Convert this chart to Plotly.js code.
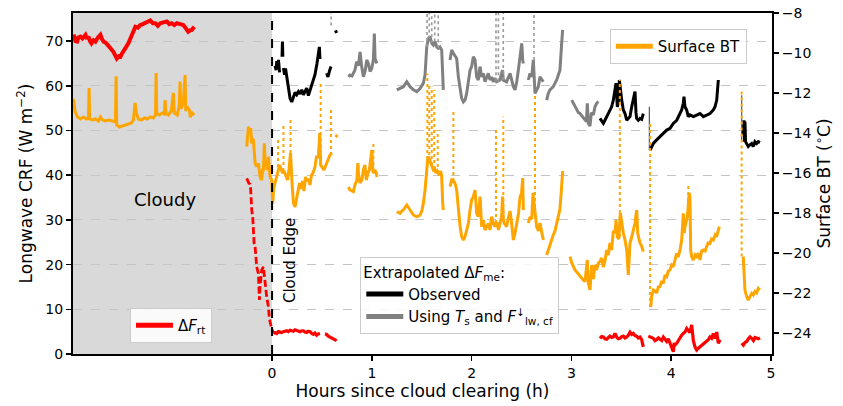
<!DOCTYPE html>
<html><head><meta charset="utf-8">
<script src="https://cdn.plot.ly/plotly-3.0.1.min.js"></script>
<style>html,body{margin:0;padding:0;background:#fff}#chart{width:843px;height:406px}</style>
</head><body><div id="chart"></div>
<script>
// ---- data: [hours since clearing, value]; null = gap ----
const rtCloudy = [[-1.99,71.0],[-1.987,71.4],[-1.97,70.0],[-1.954,69.9],[-1.94,70.8],[-1.92,71.0],[-1.9,70.6],[-1.87,71.4],[-1.855,70.5],[-1.84,71.0],[-1.825,70.0],[-1.81,69.5],[-1.79,70.2],[-1.77,69.9],[-1.745,70.8],[-1.72,71.4],[-1.705,70.5],[-1.69,69.9],[-1.665,69.6],[-1.64,69.1],[-1.615,68.3],[-1.59,67.6],[-1.57,66.8],[-1.556,66.1],[-1.535,66.6],[-1.52,66.5],[-1.505,67.2],[-1.49,67.6],[-1.465,68.6],[-1.44,69.5],[-1.42,70.5],[-1.40,71.4],[-1.385,72.4],[-1.37,73.2],[-1.345,73.0],[-1.32,73.6],[-1.295,73.8],[-1.27,74.0],[-1.245,74.2],[-1.22,74.6],[-1.195,74.0],[-1.17,74.0],[-1.145,73.4],[-1.12,74.0],[-1.09,74.2],[-1.055,74.4],[-1.03,73.8],[-1.005,74.0],[-0.98,73.6],[-0.955,74.0],[-0.92,73.8],[-0.89,73.6],[-0.865,72.9],[-0.84,72.1],[-0.82,72.4],[-0.805,72.5],[-0.78,73.2]];
const rtDrop = [[-0.254,39.3],[-0.245,38.6],[-0.232,38.2],[-0.22,38.0],[-0.214,36.7],[-0.204,32.2],[-0.194,30.7],[-0.187,27.7],[-0.18,24.8],[-0.17,24.0],[-0.164,21.8],[-0.154,19.5],[-0.137,18.0],[-0.127,12.1],[-0.12,15.1],[-0.104,18.8],[-0.087,19.5],[-0.08,18.0],[-0.07,15.1],[-0.054,12.8],[-0.037,10.6],[-0.027,8.0],[-0.013,6.5],[0.0,5.4],[0.013,4.6]];
const rtClear = [[0.013,4.6],[0.03,4.8],[0.047,4.6],[0.063,5.0],[0.08,4.9],[0.097,4.8],[0.114,5.0],[0.13,5.1],[0.147,5.2],[0.163,5.0],[0.18,5.3],[0.197,5.2],[0.214,5.1],[0.23,5.4],[0.247,5.3],[0.263,5.1],[0.28,5.0],[0.297,5.2],[0.314,5.2],[0.33,4.9],[0.347,4.8],[0.363,5.1],[0.38,5.0],[0.397,4.6],[0.414,4.4],[0.43,4.7],[0.447,4.2],[0.463,4.5],[0.48,4.6],null,
 [0.53,4.5],[0.547,4.4],[0.563,4.0],[0.58,3.8],[0.597,3.6],[0.614,3.5],[0.63,3.3],[0.647,3.0],null,
 [3.286,3.5],[3.303,3.9],[3.32,3.8],[3.336,3.4],[3.353,3.3],[3.37,3.8],[3.386,4.0],[3.403,3.7],[3.42,3.8],[3.437,4.6],[3.453,3.8],[3.47,3.4],[3.487,3.5],[3.504,3.9],[3.52,4.0],[3.537,3.6],[3.554,3.8],[3.57,4.2],[3.587,4.9],[3.604,4.4],[3.62,4.6],[3.637,4.1],[3.654,4.0],[3.67,3.6],[3.687,3.8],[3.704,3.2],[3.72,1.6],null,
 [3.77,4.0],[3.787,3.8],[3.804,3.5],[3.82,3.5],[3.837,3.0],[3.854,3.2],[3.871,3.6],[3.888,3.3],[3.905,3.0],[3.921,3.8],[3.938,3.2],[3.955,2.8],[3.971,3.4],[3.988,2.4],[4.005,1.6],[4.021,0.5],[4.03,2.5],[4.038,2.0],[4.055,2.4],[4.07,3.0],[4.088,3.8],[4.105,4.2],[4.121,4.6],[4.138,4.9],[4.155,5.7],[4.172,5.2],[4.188,4.8],[4.205,6.5],[4.213,4.5],[4.222,3.0],[4.238,1.6],[4.255,0.9],[4.272,1.3],[4.289,1.6],[4.305,2.0],[4.322,2.4],[4.34,2.6],[4.356,2.8],[4.372,3.2],[4.389,3.8],[4.405,3.5],[4.422,4.6],[4.439,3.5],[4.456,4.9],[4.472,2.4],[4.489,3.2],null,
 [4.706,2.4],[4.723,2.0],[4.74,2.6],[4.757,2.8],[4.773,3.4],[4.79,3.8],[4.807,3.5],[4.824,3.0],[4.84,3.7],[4.857,3.6],[4.873,3.4],[4.89,3.6]];

const meObserved = [[0.03,64.5],[0.04,63.5],[0.047,65.5],[0.055,64.0],[0.064,65.8],[0.075,63.0],null,
 [0.1,66.5],[0.104,69.9],[0.108,66.5],null,
 [0.114,64.0],[0.125,62.5],[0.135,63.9],[0.147,62.0],[0.16,60.5],[0.175,58.0],[0.18,57.2],[0.197,56.4],[0.214,57.6],[0.23,58.5],[0.247,58.0],[0.264,58.7],[0.28,58.2],[0.297,59.1],[0.314,58.0],[0.33,58.6],[0.347,59.5],[0.364,57.8],[0.38,59.0],[0.397,60.5],[0.414,61.5],[0.43,62.5],[0.45,65.0],[0.474,68.7],[0.48,66.0],null,
 [0.547,62.8],[0.56,62.0],[0.575,63.3],[0.59,64.3],null,
 [0.636,72.4],[0.646,71.8],null,
 [3.286,52.7],[3.303,52.0],[3.32,51.6],[3.336,52.3],[3.353,53.1],[3.37,53.8],[3.386,54.6],[3.403,55.3],[3.42,56.8],[3.437,59.8],[3.447,60.6],[3.46,55.3],[3.47,56.1],[3.48,61.3],[3.494,58.3],[3.504,56.8],[3.52,54.6],[3.537,53.8],[3.554,52.3],[3.57,52.7],[3.587,53.1],[3.604,55.3],[3.62,56.8],[3.637,58.7],[3.647,54.0],[3.654,52.7],[3.67,52.3],[3.687,52.7],[3.704,52.5],[3.72,53.8],null,
 [3.788,45.6],[3.804,46.4],[3.821,47.1],[3.854,47.9],[3.888,48.6],[3.921,49.4],[3.955,50.1],[3.988,50.5],[4.021,51.6],[4.055,52.3],[4.071,53.1],[4.088,53.8],[4.105,54.6],[4.121,56.1],[4.128,57.6],[4.138,55.3],[4.155,54.6],[4.171,53.1],[4.188,53.5],[4.222,53.1],[4.255,53.5],[4.289,53.8],[4.322,53.1],[4.355,53.5],[4.389,53.8],[4.422,54.6],[4.439,55.3],[4.456,56.8],[4.472,61.3],null,
 [4.722,49.0],[4.729,52.3],[4.735,47.5],[4.739,52.0],[4.745,47.5],[4.756,47.1],[4.772,46.4],[4.789,46.8],[4.806,47.1],[4.822,46.4],[4.839,47.5],[4.856,47.1],[4.872,47.5],[4.889,47.3]];

const meUsingTs = [[0.765,62.0],[0.78,62.4],[0.8,62.2],[0.815,62.8],[0.83,63.5],[0.848,65.4],[0.865,64.5],[0.882,67.6],[0.89,65.0],[0.898,64.3],[0.915,62.0],[0.932,63.2],[0.949,65.8],[0.965,65.0],[0.982,63.2],[0.999,63.9],[1.015,65.8],[1.025,71.7],[1.032,66.1],[1.049,65.0],null,
 [1.25,59.1],[1.283,59.4],[1.316,59.8],[1.35,60.9],[1.366,60.2],[1.383,59.8],[1.416,59.1],[1.45,58.7],[1.483,59.4],[1.516,60.6],[1.533,62.4],[1.55,68.7],[1.566,70.6],[1.583,71.0],[1.6,69.5],[1.616,69.1],[1.633,69.9],[1.65,68.7],[1.666,68.4],[1.683,68.7],[1.7,68.0],[1.71,62.0],[1.716,59.1],null,
 [1.783,65.8],[1.8,68.0],[1.817,67.3],[1.834,66.5],[1.85,66.1],[1.867,62.0],[1.884,59.1],[1.9,57.2],[1.917,56.4],[1.934,56.8],[1.95,58.3],[1.967,60.9],[1.984,63.5],[2.0,64.3],[2.017,66.5],[2.034,65.8],[2.044,63.5],[2.05,62.0],[2.067,61.3],[2.084,64.3],[2.1,62.0],[2.117,62.8],[2.134,60.9],[2.15,62.0],[2.167,62.8],[2.184,61.3],[2.2,62.0],[2.217,60.9],[2.234,61.7],[2.25,60.9],[2.284,61.3],[2.3,62.8],[2.31,63.5],[2.317,61.3],[2.35,60.9],[2.385,62.8],[2.418,59.8],[2.435,59.1],[2.452,60.9],[2.468,63.5],[2.485,66.5],[2.502,69.5],[2.512,65.8],[2.518,65.0],null,
 [2.568,61.3],[2.585,62.8],[2.602,62.0],[2.618,65.8],[2.635,58.3],[2.652,59.1],[2.668,59.8],[2.685,62.0],[2.702,61.3],[2.718,60.9],null,
 [2.752,56.8],[2.768,58.3],[2.785,59.1],[2.818,59.8],[2.852,61.3],[2.885,63.5],[2.902,69.5],[2.912,72.5],null,
 [3.003,56.8],[3.02,56.1],[3.036,55.3],[3.05,54.6],[3.07,54.0],[3.086,53.8],[3.11,53.1],[3.136,52.5],[3.15,52.0],[3.159,56.1],[3.169,51.6],[3.186,51.0],[3.2,54.0],[3.22,53.5],[3.236,55.3],[3.253,56.1],[3.27,56.5]];

// dotted excursions of the "Using Ts" series: [hours, low, high]
const tsSpikes = [[0.592,73.5,78],[1.553,68.7,78],[1.575,70.6,78],[1.6,69.5,78],[1.63,69.9,78],[1.665,68.4,78],[2.244,61.0,78],[2.268,61.0,78],[2.317,61.3,78],[2.625,65.8,78]];
// thin transitions of the extrapolated series: [hours, low, high]
const meJumps = [[3.781,45.6,55.3],[4.706,47.5,57.9]];

const surfaceBT = [[-1.99,-12.3],[-1.975,-12.9],[-1.95,-13.2],[-1.92,-13.3],[-1.89,-13.2],[-1.86,-13.3],[-1.84,-13.25],[-1.834,-11.75],[-1.828,-13.3],[-1.80,-13.35],[-1.77,-13.3],[-1.74,-13.4],[-1.72,-13.2],[-1.70,-13.35],[-1.67,-13.4],[-1.64,-13.35],[-1.60,-13.4],[-1.57,-13.45],[-1.563,-11.16],[-1.557,-13.6],[-1.53,-13.7],[-1.50,-13.65],[-1.47,-13.6],[-1.44,-13.55],[-1.41,-13.5],[-1.39,-13.35],[-1.373,-12.5],[-1.36,-13.0],[-1.34,-13.3],[-1.31,-13.35],[-1.28,-13.25],[-1.25,-13.3],[-1.22,-13.2],[-1.19,-13.25],[-1.168,-13.1],[-1.162,-11.0],[-1.156,-13.0],[-1.13,-13.1],[-1.10,-13.0],[-1.08,-13.05],[-1.072,-12.35],[-1.065,-13.0],[-1.04,-13.1],[-1.01,-12.9],[-0.989,-12.0],[-0.98,-13.0],[-0.95,-13.1],[-0.93,-12.6],[-0.922,-11.43],[-0.915,-12.8],[-0.89,-12.5],[-0.872,-11.1],[-0.865,-12.9],[-0.85,-12.7],[-0.828,-12.85],[-0.82,-13.2],[-0.80,-13.0],[-0.78,-13.1],null,
 [-0.254,-14.68],[-0.245,-13.9],[-0.237,-13.68],[-0.225,-14.0],[-0.214,-13.75],[-0.204,-14.52],[-0.195,-14.3],[-0.187,-14.35],[-0.18,-15.02],[-0.17,-15.52],[-0.154,-15.68],[-0.137,-15.52],[-0.12,-16.18],[-0.104,-16.35],[-0.095,-15.85],[-0.087,-15.85],[-0.077,-14.52],[-0.07,-15.5],[-0.06,-15.52],[-0.047,-15.85],[-0.037,-15.18],[-0.02,-16.18],[-0.003,-16.35],[0.007,-17.52],[0.015,-16.8],[0.03,-16.5],[0.045,-16.2],[0.06,-16.0],[0.075,-15.6],[0.09,-15.8],[0.105,-16.0],[0.12,-15.9],[0.14,-16.2],[0.155,-16.35],[0.17,-15.8],[0.185,-15.0],[0.2,-16.5],[0.214,-17.5],[0.23,-17.7],[0.247,-17.2],[0.26,-16.9],[0.275,-16.5],[0.29,-16.8],[0.305,-16.4],[0.32,-16.9],[0.335,-16.2],[0.35,-16.4],[0.365,-16.3],[0.38,-16.6],[0.395,-16.1],[0.41,-16.0],[0.43,-15.7],[0.445,-15.2],[0.464,-15.2],[0.478,-14.0],[0.487,-15.6],[0.5,-15.7],[0.52,-15.85],[0.54,-15.6],[0.56,-15.35],[0.58,-15.1],[0.6,-15.0],null,
 [0.636,-14.2],[0.655,-14.1],null,
 [0.765,-16.7],[0.78,-16.85],[0.8,-16.9],[0.815,-16.93],[0.83,-16.6],[0.85,-16.35],[0.86,-15.5],[0.865,-16.0],[0.88,-16.5],[0.9,-16.35],[0.915,-15.85],[0.93,-15.6],[0.945,-16.35],[0.96,-16.0],[0.975,-15.85],[0.99,-15.0],[1.0,-14.85],[1.01,-15.9],[1.02,-16.0],[1.03,-15.85],[1.045,-16.0],[1.05,-16.2],null,
 [1.25,-17.93],[1.27,-18.0],[1.283,-18.02],[1.3,-17.9],[1.316,-17.85],[1.335,-17.7],[1.35,-17.6],[1.37,-17.75],[1.383,-17.85],[1.4,-18.0],[1.416,-18.1],[1.433,-18.15],[1.45,-18.18],[1.47,-18.15],[1.483,-18.1],[1.5,-17.9],[1.516,-17.52],[1.533,-16.85],[1.55,-15.68],[1.56,-15.3],[1.566,-15.18],[1.58,-15.4],[1.59,-15.52],[1.605,-15.7],[1.616,-15.85],[1.63,-15.8],[1.64,-16.0],[1.655,-15.9],[1.665,-16.0],[1.675,-16.1],[1.69,-15.9],[1.7,-16.2],[1.71,-17.52],[1.716,-17.85],null,
 [1.783,-16.68],[1.8,-16.35],[1.817,-16.4],[1.834,-16.52],[1.85,-16.85],[1.867,-17.85],[1.884,-18.68],[1.9,-19.18],[1.917,-19.35],[1.934,-19.18],[1.95,-18.85],[1.967,-18.52],[1.984,-17.85],[2.0,-17.35],[2.017,-17.18],[2.034,-16.85],[2.044,-17.52],[2.05,-18.02],[2.067,-18.18],[2.084,-17.18],[2.1,-18.68],[2.117,-18.35],[2.134,-18.85],[2.15,-18.68],[2.167,-18.52],[2.184,-18.85],[2.2,-18.18],[2.217,-18.52],[2.234,-18.68],[2.244,-18.5],[2.258,-18.52],[2.268,-18.85],[2.284,-18.52],[2.3,-18.18],[2.31,-17.18],[2.317,-18.3],[2.327,-18.52],[2.35,-18.68],[2.37,-18.2],[2.385,-17.9],[2.40,-18.5],[2.418,-19.35],[2.435,-19.0],[2.452,-18.5],[2.47,-18.0],[2.485,-17.2],[2.5,-17.0],[2.512,-16.25],[2.518,-17.85],null,
 [2.568,-18.5],[2.585,-18.2],[2.602,-18.3],[2.615,-17.0],[2.625,-17.5],[2.635,-18.0],[2.652,-18.7],[2.67,-18.9],[2.685,-18.5],[2.7,-18.9],[2.718,-19.35],null,
 [2.752,-20.1],[2.77,-19.8],[2.785,-19.6],[2.8,-19.4],[2.818,-19.1],[2.835,-18.9],[2.852,-18.5],[2.87,-18.0],[2.885,-17.8],[2.9,-16.8],[2.912,-15.9],null,
 [2.986,-20.18],[3.003,-20.5],[3.036,-20.85],[3.06,-21.0],[3.086,-21.18],[3.11,-21.3],[3.136,-21.43],[3.159,-20.35],[3.169,-21.5],[3.186,-21.85],[3.203,-20.6],[3.22,-21.3],[3.236,-20.6],[3.253,-20.85],[3.27,-20.5],[3.286,-20.43],[3.303,-20.25],[3.32,-20.7],[3.336,-20.4],[3.353,-19.85],[3.37,-20.1],[3.386,-19.5],[3.403,-19.85],[3.42,-18.9],[3.437,-19.0],[3.447,-18.35],[3.46,-19.2],[3.475,-19.3],[3.49,-18.0],[3.504,-18.5],[3.52,-19.0],[3.537,-19.35],[3.554,-19.85],[3.57,-21.1],[3.587,-19.5],[3.604,-19.2],[3.62,-18.85],[3.637,-18.5],[3.654,-17.85],[3.664,-19.0],[3.687,-19.5],[3.704,-19.65],[3.72,-19.93],null,
 [3.795,-22.7],[3.804,-22.18],[3.821,-21.85],[3.838,-21.9],[3.854,-22.0],[3.871,-21.7],[3.888,-21.68],[3.905,-21.4],[3.921,-21.52],[3.938,-21.1],[3.955,-21.18],[3.97,-20.9],[3.988,-20.85],[4.005,-20.6],[4.021,-20.68],[4.038,-20.3],[4.055,-20.02],[4.07,-20.2],[4.088,-19.85],[4.105,-19.35],[4.121,-18.02],[4.13,-19.0],[4.138,-18.68],[4.155,-18.35],[4.165,-18.0],[4.18,-17.0],[4.188,-17.18],[4.195,-19.85],[4.205,-20.18],[4.221,-20.35],[4.24,-20.1],[4.255,-20.18],[4.27,-20.0],[4.288,-20.35],[4.305,-19.9],[4.322,-19.85],[4.34,-19.9],[4.355,-19.68],[4.37,-19.5],[4.388,-19.52],[4.405,-19.3],[4.422,-19.35],[4.44,-19.1],[4.455,-19.18],[4.47,-18.9],[4.482,-18.68],null,
 [4.722,-20.18],[4.729,-21.18],[4.739,-21.85],[4.756,-22.18],[4.772,-22.35],[4.789,-22.18],[4.806,-22.02],[4.822,-22.1],[4.839,-21.93],[4.856,-22.0],[4.872,-21.77],[4.889,-21.85]];

// sparse (dotted) excursions of the surface BT: [hours, low, high]
const btSpikes = [[0.06,-16.0,-14.3],[0.114,-15.9,-13.55],[0.185,-15.0,-13.2],[0.487,-15.6,-11.43],[0.59,-15.1,-12.85],[1.015,-15.9,-14.5],[1.556,-15.3,-11.02],[1.575,-15.4,-11.52],[1.6,-15.6,-11.68],[1.625,-15.8,-11.85],[1.66,-16.0,-13.85],[1.817,-16.4,-12.85],[2.244,-18.5,-13.85],[2.317,-18.3,-13.18],[2.635,-18.0,-12.0],[3.485,-19.2,-11.35],[3.788,-22.7,-13.4],[4.171,-18.0,-16.52],[4.706,-20.18,-11.77]];

const hourTicks = [0,1,2,3,4,5];
const crfTicks = [0,10,20,30,40,50,60,70];
const btTicks = [-24,-22,-20,-18,-16,-14,-12,-10,-8];

// ---- build ----
const xs = a => a.map(p => p ? p[0] : null);
const ys = a => a.map(p => p ? p[1] : null);
const ORANGE = '#ffa500', GRAY = '#808080', RED = '#ff0000';
const FONT = 'DejaVu Sans, Liberation Sans, sans-serif';

const traces = [];
traces.push({x: xs(meUsingTs), y: ys(meUsingTs), mode:'lines', line:{color:GRAY, width:3}, showlegend:false, hoverinfo:'skip'});
tsSpikes.forEach(s => traces.push({x:[s[0],s[0]], y:[s[1],s[2]], mode:'lines', line:{color:'#9a9a9a', width:1.6, dash:'dot'}, showlegend:false, hoverinfo:'skip'}));
meJumps.forEach(s => traces.push({x:[s[0],s[0]], y:[s[1],s[2]], mode:'lines', line:{color:'#555555', width:1.2}, showlegend:false, hoverinfo:'skip'}));
traces.push({x: xs(meObserved), y: ys(meObserved), mode:'lines', line:{color:'black', width:3}, showlegend:false, hoverinfo:'skip'});
traces.push({x: xs(surfaceBT), y: ys(surfaceBT), yaxis:'y2', mode:'lines', line:{color:ORANGE, width:3}, showlegend:false, hoverinfo:'skip'});
btSpikes.forEach(s => traces.push({x:[s[0],s[0]], y:[s[1],s[2]], yaxis:'y2', mode:'lines', line:{color:ORANGE, width:2, dash:'dot'}, showlegend:false, hoverinfo:'skip'}));
traces.push({x: xs(rtCloudy), y: ys(rtCloudy), mode:'lines', line:{color:RED, width:4}, showlegend:false, hoverinfo:'skip'});
traces.push({x: xs(rtDrop), y: ys(rtDrop), mode:'lines', line:{color:RED, width:2.8, dash:'7px,3px'}, showlegend:false, hoverinfo:'skip'});
traces.push({x: xs(rtClear), y: ys(rtClear), mode:'lines', line:{color:RED, width:3.2}, showlegend:false, hoverinfo:'skip'});

// legend entries
traces.push({x:[null], y:[null], yaxis:'y2', mode:'lines', line:{color:ORANGE, width:5}, name:'Surface BT', legend:'legend'});
traces.push({x:[null], y:[null], mode:'lines', line:{color:'black', width:5}, name:'Observed', legend:'legend2'});
traces.push({x:[null], y:[null], mode:'lines', line:{color:GRAY, width:5}, name:'Using <i>T</i><sub>s</sub> and <i>F</i><sup>↓</sup><sub>lw, cf</sub>', legend:'legend2'});
traces.push({x:[null], y:[null], mode:'lines', line:{color:RED, width:5}, name:'Δ<i>F</i><sub>rt</sub>', legend:'legend3'});

const legBase = {bgcolor:'rgba(255,255,255,0.85)', bordercolor:'#cccccc', borderwidth:1, font:{family:FONT, size:15, color:'#000'}, itemwidth:37, xanchor:'left', yanchor:'top', tracegroupgap:0};

const cloudStart = -1.995, cloudEdge = 0;
const layout = {
  width:843, height:406, autosize:false,
  margin:{l:73, r:71, t:13, b:52},
  paper_bgcolor:'white', plot_bgcolor:'white',
  font:{family:FONT, size:14, color:'#000'},
  xaxis:{range:[cloudStart, 5.01], tickvals:hourTicks, ticks:'outside', ticklen:5, tickwidth:1.5, tickcolor:'#000',
    showline:true, linewidth:2, linecolor:'#000', mirror:true, showgrid:false, zeroline:false,
    tickfont:{size:14}, title:{text:'Hours since cloud clearing (h)', font:{size:17}, standoff:4}},
  yaxis:{range:[0,76.29], tickvals:crfTicks, ticks:'outside', ticklen:5, tickwidth:1.5, tickcolor:'#000',
    showline:true, linewidth:2, linecolor:'#000', showgrid:true, gridcolor:'#c4c4c4', gridwidth:1, griddash:'dash',
    zeroline:false, tickfont:{size:14}, title:{text:'Longwave CRF (W m<sup>−2</sup>)', font:{size:17}, standoff:8}},
  yaxis2:{overlaying:'y', side:'right', range:[-25.05,-8], tickvals:btTicks, ticks:'outside', ticklen:5, tickwidth:1.5, tickcolor:'#000',
    showline:true, linewidth:2, linecolor:'#000', showgrid:false, zeroline:false, tickfont:{size:14},
    title:{text:'Surface BT (<sup>∘</sup>C)', font:{size:17}, standoff:8}},
  legend: Object.assign({}, legBase, {x:0.964, xanchor:'right', y:0.953}),
  legend2: Object.assign({}, legBase, {x:0.411, y:0.284, title:{text:'Extrapolated Δ<i>F</i><sub>me</sub>:', font:{family:FONT, size:15}}}),
  legend3: Object.assign({}, legBase, {x:0.0815, y:0.135}),
  shapes:[
    {type:'rect', xref:'x', yref:'paper', x0:cloudStart, x1:cloudEdge, y0:0, y1:1, fillcolor:'#d9d9d9', line:{width:0}, layer:'below'},
    {type:'line', xref:'x', yref:'paper', x0:cloudEdge, x1:cloudEdge, y0:0, y1:1, line:{color:'#000', width:2, dash:'dash'}, layer:'above'}
  ],
  annotations:[
    {text:'Cloudy', x:-1.07, y:34.5, xref:'x', yref:'y', showarrow:false, font:{size:18}},
    {text:'Cloud Edge', x:0.18, y:20.8, xref:'x', yref:'y', showarrow:false, textangle:-90, font:{size:15}}
  ]
};
Plotly.newPlot('chart', traces, layout, {displayModeBar:false, staticPlot:true});
</script></body></html>
